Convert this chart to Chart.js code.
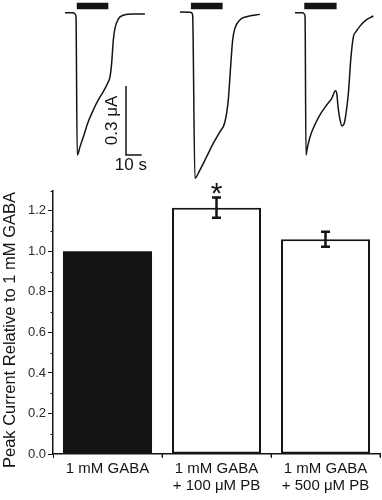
<!DOCTYPE html>
<html><head><meta charset="utf-8">
<script src="https://cdn.jsdelivr.net/npm/chart.js@4.4.1/dist/chart.umd.min.js"></script>
<style>
html,body{margin:0;padding:0;background:#fff;}
#wrap{position:relative;width:382px;height:500px;overflow:hidden;}
canvas{position:absolute;left:0;top:0;}
</style></head><body>
<div id="wrap">
<canvas id="bars" width="382" height="500"></canvas>
<canvas id="traces" width="382" height="190"></canvas>
</div>
<script>
// ---------------- bar chart data ----------------
const categories = [["1 mM GABA"], ["1 mM GABA", "+ 100 \u03BCM PB"], ["1 mM GABA", "+ 500 \u03BCM PB"]];
const peakRelative = [1.0, 1.215, 1.06];
const peakError = [0, 0.05, 0.037];
const significance = ["", "*", ""];
const yTickValues = [0.0, 0.2, 0.4, 0.6, 0.8, 1.0, 1.2];
const yMinorTickValues = [0.1, 0.3, 0.5, 0.7, 0.9, 1.1, 1.3];
const yTitle = "Peak Current Relative to 1 mM GABA";

// ---------------- current traces (time s, current uA) ----------------
const trace1Time = [0, 5.3, 6.4, 7.0, 7.8, 9.6, 11.7, 14.8, 18.0, 21.2, 24.4, 27.6, 28.7, 29.7, 30.8, 31.8, 33.9, 37.1, 43.5, 50.9];
const trace1Current = [0.001, 0.001, -0.004, -0.016, -0.617, -0.581, -0.538, -0.473, -0.422, -0.378, -0.342, -0.299, -0.277, -0.219, -0.117, -0.067, -0.027, -0.010, -0.004, -0.004];
const trace2Time = [0, 6.4, 7.4, 8.1, 9.55, 12.7, 17.0, 21.2, 25.5, 28.7, 30.8, 32.3, 33.6, 35.0, 38.2, 42.5, 51.0];
const trace2Current = [0.004, 0.003, 0.001, -0.009, -0.718, -0.683, -0.625, -0.567, -0.516, -0.473, -0.378, -0.233, -0.117, -0.067, -0.030, -0.016, -0.006];
const trace3Time = [0, 4.9, 5.9, 6.4, 7.0, 7.8, 9.6, 12.1, 15.9, 20.2, 23.4, 25.7, 26.6, 27.4, 28.7, 29.9, 31.2, 32.5, 34.0, 35.5, 37.2, 38.9, 41.4, 44.6, 49.9];
const trace3Current = [0.001, 0.001, -0.004, -0.016, -0.617, -0.588, -0.538, -0.494, -0.443, -0.400, -0.371, -0.338, -0.349, -0.407, -0.465, -0.491, -0.483, -0.436, -0.349, -0.204, -0.103, -0.081, -0.057, -0.034, -0.013];
const stimulusStart = [7.5, 7.0, 5.9];
const stimulusEnd = [27.6, 27.2, 26.5];
const scaleBarTime = 10;      // s
const scaleBarCurrent = 0.3;  // uA

// ---------------- layout (not data) ----------------
const pxPerSec = 1.57;
const traceOffsets = [41.4, 114.6, 187.9];   // s, horizontal placement of each trace
const traceYMin = -0.7696, traceYMax = 0.0565;
const stimulusMarkLevel = 0.0304;
const scaleBarOrigin = {t: 80.25, i: -0.617};
const ink = '#141414';
const FONT = "'Liberation Sans', Arial, sans-serif";

// ---------------- bar chart ----------------
const barExtras = {
  id: 'barExtras',
  afterDatasetsDraw(chart) {
    const ctx = chart.ctx, x = chart.scales.x, y = chart.scales.y;
    ctx.save();
    ctx.strokeStyle = ink; ctx.fillStyle = ink;
    // error bars
    peakError.forEach((e, i) => {
      if (!e) return;
      const cx = x.getPixelForValue(i);
      const top = y.getPixelForValue(peakRelative[i] + e);
      const bot = y.getPixelForValue(peakRelative[i] - e);
      ctx.lineWidth = 2.5;
      ctx.beginPath();
      ctx.moveTo(cx, top); ctx.lineTo(cx, bot);
      ctx.moveTo(cx - 4.5, top); ctx.lineTo(cx + 4.5, top);
      ctx.moveTo(cx - 4.5, bot); ctx.lineTo(cx + 4.5, bot);
      ctx.stroke();
      if (significance[i]) {
        ctx.font = "30px " + FONT;
        ctx.textAlign = 'center'; ctx.textBaseline = 'alphabetic';
        ctx.fillText(significance[i], cx, top + 5);
      }
    });
    // minor y ticks
    ctx.lineWidth = 1;
    ctx.beginPath();
    yMinorTickValues.forEach(v => {
      const py = Math.round(y.getPixelForValue(v)) + 0.5;
      ctx.moveTo(chart.chartArea.left - 2.5, py); ctx.lineTo(chart.chartArea.left, py);
    });
    // category boundary ticks
    for (let i = 0; i < categories.length; i++) {
      const bx = (x.getPixelForValue(i) + x.getPixelForValue(i + 1)) / 2;
      const px = i === categories.length - 1 ? chart.chartArea.right : bx;
      ctx.moveTo(px, chart.chartArea.bottom); ctx.lineTo(px, chart.chartArea.bottom + 3);
    }
    ctx.stroke();
    // y title
    ctx.font = "16.5px " + FONT;
    ctx.textAlign = 'center'; ctx.textBaseline = 'middle';
    ctx.translate(10, 330);
    ctx.rotate(-Math.PI / 2);
    ctx.fillText(yTitle, 0, 0);
    ctx.restore();
  }
};

new Chart(document.getElementById('bars'), {
  type: 'bar',
  data: {
    labels: categories,
    datasets: [{
      data: peakRelative,
      backgroundColor: [ink, '#ffffff', '#ffffff'],
      borderColor: ink,
      borderWidth: [0, 2, 2],
      borderSkipped: false,
      barPercentage: 0.817,
      categoryPercentage: 1.0
    }]
  },
  options: {
    responsive: false, animation: false, events: [],
    layout: {padding: {top: 190.5, right: 2, left: 0, bottom: 0}},
    plugins: {legend: {display: false}, tooltip: {enabled: false}},
    scales: {
      x: {
        offset: true,
        grid: {display: true, drawOnChartArea: false, drawTicks: true, tickLength: 4, color: ink, lineWidth: 1},
        border: {display: true, color: ink, width: 1.5},
        ticks: {font: {family: FONT, size: 15, lineHeight: 1.15}, color: ink, padding: 2, maxRotation: 0, autoSkip: false},
        afterFit: s => { s.height = 46; }
      },
      y: {
        min: 0, max: 1.3,
        afterBuildTicks: s => { s.ticks = yTickValues.map(v => ({value: v})); },
        grid: {display: true, drawOnChartArea: false, drawTicks: true, tickLength: 5, color: ink, lineWidth: 1},
        border: {display: true, color: ink, width: 1.5},
        ticks: {font: {family: FONT, size: 13}, color: '#2a2a2a', padding: 2, callback: v => Number(v).toFixed(1)},
        afterFit: s => { s.width = 53; }
      }
    }
  },
  plugins: [barExtras]
});

// ---------------- traces chart ----------------
const traceSets = [[trace1Time, trace1Current], [trace2Time, trace2Current], [trace3Time, trace3Current]];
const datasets = [];
traceSets.forEach(([T, I], k) => {
  datasets.push({
    data: T.map((t, j) => ({x: traceOffsets[k] + t, y: I[j]})),
    borderColor: ink, borderWidth: 1.5, cubicInterpolationMode: 'monotone', clip: false
  });
  datasets.push({
    data: [{x: traceOffsets[k] + stimulusStart[k], y: stimulusMarkLevel}, {x: traceOffsets[k] + stimulusEnd[k], y: stimulusMarkLevel}],
    borderColor: ink, borderWidth: 6.6, borderCapStyle: 'butt', clip: false
  });
});
datasets.push({
  data: [
    {x: scaleBarOrigin.t, y: scaleBarOrigin.i + scaleBarCurrent},
    {x: scaleBarOrigin.t, y: scaleBarOrigin.i},
    {x: scaleBarOrigin.t + scaleBarTime, y: scaleBarOrigin.i}
  ],
  borderColor: ink, borderWidth: 1.5, borderJoinStyle: 'miter', borderCapStyle: 'butt', clip: false
});

const traceLabels = {
  id: 'traceLabels',
  afterDatasetsDraw(chart) {
    const ctx = chart.ctx, x = chart.scales.x, y = chart.scales.y;
    ctx.save();
    ctx.fillStyle = ink;
    ctx.font = "17px " + FONT;
    ctx.textAlign = 'center'; ctx.textBaseline = 'alphabetic';
    ctx.fillText(scaleBarTime + " s", x.getPixelForValue(scaleBarOrigin.t + scaleBarTime / 2) - 3, y.getPixelForValue(scaleBarOrigin.i) + 15);
    ctx.font = "17px " + FONT;
    ctx.textBaseline = 'middle';
    ctx.translate(x.getPixelForValue(scaleBarOrigin.t) - 14, y.getPixelForValue(scaleBarOrigin.i + scaleBarCurrent / 2));
    ctx.rotate(-Math.PI / 2);
    ctx.fillText(scaleBarCurrent + " \u03BCA", 0, 0);
    ctx.restore();
  }
};

new Chart(document.getElementById('traces'), {
  type: 'line',
  data: {datasets},
  options: {
    responsive: false, animation: false, events: [],
    layout: {padding: 0},
    elements: {point: {radius: 0}},
    plugins: {legend: {display: false}, tooltip: {enabled: false}},
    scales: {
      x: {type: 'linear', display: false, min: 0, max: 382 / pxPerSec},
      y: {type: 'linear', display: false, min: traceYMin, max: traceYMax}
    }
  },
  plugins: [traceLabels]
});
</script>
</body></html>
